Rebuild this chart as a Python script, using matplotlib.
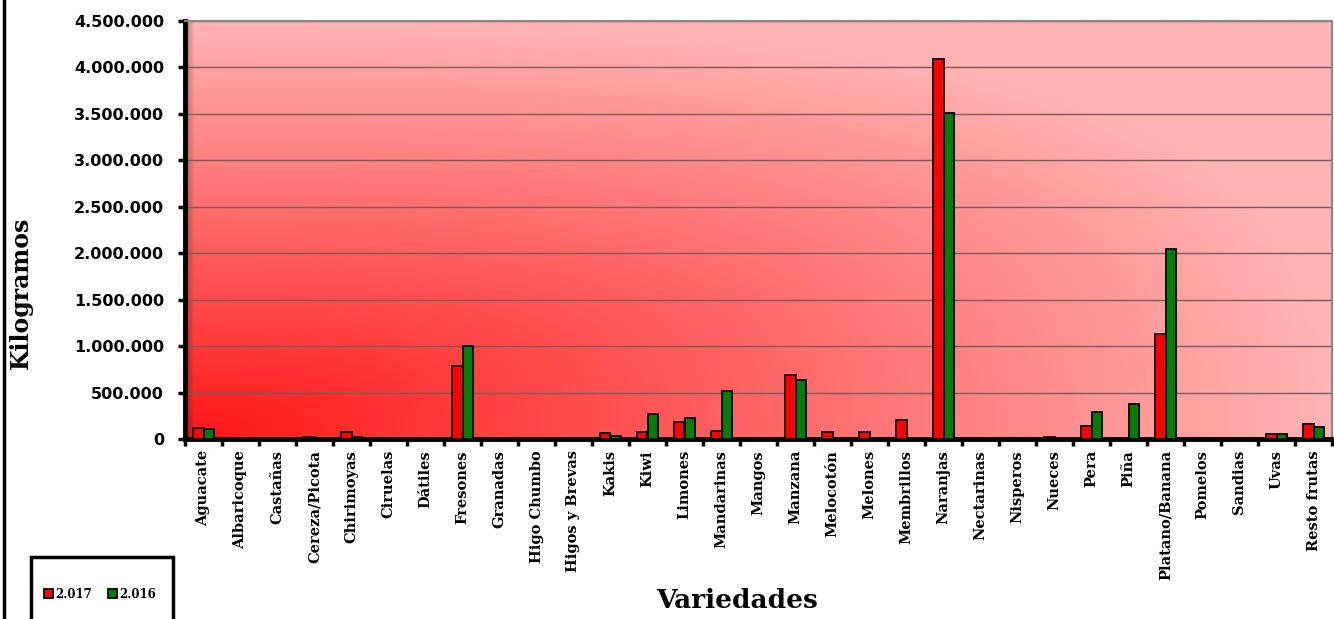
import numpy as np
import matplotlib
matplotlib.use("Agg")
import matplotlib.pyplot as plt
from matplotlib.ticker import FuncFormatter, FixedLocator
from matplotlib.patches import Rectangle
from matplotlib.lines import Line2D

# data
variedades = ['Aguacate', 'Albaricoque', 'Castañas', 'Cereza/Picota', 'Chirimoyas', 'Ciruelas',
              'Dátiles', 'Fresones', 'Granadas', 'Higo Chumbo', 'Higos y Brevas', 'Kakis', 'Kiwi',
              'Limones', 'Mandarinas', 'Mangos', 'Manzana', 'Melocotón', 'Melones', 'Membrillos',
              'Naranjas', 'Nectarinas', 'Nisperos', 'Nueces', 'Pera', 'Piña', 'Platano/Banana',
              'Pomelos', 'Sandias', 'Uvas', 'Resto frutas']
kg_2017 = [120000, 0, 0, 20000, 75000, 10000, 0, 790000, 0, 0, 0, 61000, 79000, 183000, 90000, 0,
           692000, 75000, 75000, 201000, 4095000, 0, 15000, 20000, 137000, 8000, 1127000, 0, 0,
           50000, 161000]
kg_2016 = [105000, 0, 0, 3000, 20000, 3000, 0, 1003000, 0, 0, 0, 32000, 269000, 223000, 517000, 0,
           635000, 0, 0, 0, 3510000, 0, 5000, 5000, 287000, 373000, 2050000, 0, 0, 57000, 133000]
series_labels = ['2.017', '2.016']
y_ticks = [0, 500000, 1000000, 1500000, 2000000, 2500000, 3000000, 3500000, 4000000, 4500000]

fig = plt.figure(figsize=(13.34, 6.19), dpi=100)
ax = fig.add_axes([185 / 1334, 180 / 619, 1147 / 1334, 418 / 619])

n = len(variedades)
ax.set_xlim(0, n)
ax.set_ylim(0, 4500000)

# background gradient from bottom-left corner
u = np.linspace(0, 1, 400)
v = np.linspace(0, 1, 200)
U, V = np.meshgrid(u, v)
t = (U ** 3 + V ** 3) ** (1 / 3)
t = np.clip(t, 0, 1)
c0 = np.array([255, 22, 22]) / 255
c1 = np.array([255, 180, 180]) / 255
img = c0[None, None, :] + (c1 - c0)[None, None, :] * t[:, :, None]
ax.imshow(img, extent=[0, 1, 0, 1], transform=ax.transAxes, origin='lower',
          aspect='auto', zorder=0, interpolation='bilinear')
# small shadow on the left edge
sh = np.zeros((2, 60, 4))
sh[..., 3] = np.linspace(0.3, 0, 60)[None, :]
ax.imshow(sh, extent=[0, 0.008, 0, 1], transform=ax.transAxes, origin='lower',
          aspect='auto', zorder=0.5)

x = np.arange(n) + 0.5
w = 0.285
ax.bar(x - w / 2, kg_2017, w, color='#ff0000', edgecolor='black', linewidth=1.3, zorder=3,
       label=series_labels[0])
ax.bar(x + w / 2, kg_2016, w, color='#008000', edgecolor='black', linewidth=1.3, zorder=3,
       label=series_labels[1])

ax.yaxis.set_major_locator(FixedLocator(y_ticks))
ax.yaxis.set_major_formatter(FuncFormatter(lambda val, p: f"{int(val):,}".replace(',', '.')))
ax.grid(axis='y', color='#7a5a5a', linewidth=1, zorder=1)
ax.set_axisbelow(True)

ax.set_xticks(np.arange(n + 1))
ax.set_xticklabels([])
ax.set_xticks(x, minor=True)
ax.set_xticklabels(variedades, minor=True, rotation=90, fontsize=10.5, fontweight='bold',
                   family='DejaVu Serif', va='top', ha='center')
ax.tick_params(axis='x', which='minor', length=0, pad=8)
ax.tick_params(axis='x', which='major', direction='out', length=5, width=2.5, color='black')
ax.tick_params(axis='y', direction='out', length=5, width=2.5, color='black', pad=10)
for lab in ax.get_yticklabels():
    lab.set_fontweight('bold')
    lab.set_fontsize(11.5)
    lab.set_family('DejaVu Sans')

ax.spines['left'].set_linewidth(3.5)
ax.spines['bottom'].set_linewidth(3.5)
ax.spines['top'].set_color('#888888')
ax.spines['right'].set_color('#888888')
ax.spines['top'].set_linewidth(1.5)
ax.spines['right'].set_linewidth(1.5)

fig.text(21 / 1334, 1 - 293 / 619, 'Kilogramos', rotation=90, ha='center', va='center',
         fontsize=17, fontweight='bold', family='DejaVu Serif')
fig.text(737 / 1334, 1 - 600 / 619, 'Variedades', ha='center', va='center',
         fontsize=19, fontweight='bold', family='DejaVu Serif')

# legend box
fig.patches.append(Rectangle((31 / 1334, -0.05), 142 / 1334, 0.05 + 62 / 619, transform=fig.transFigure,
                             facecolor='white', edgecolor='black', linewidth=2.5, clip_on=False))
h, l = ax.get_legend_handles_labels()
fig.legend(h, l, loc='center', bbox_to_anchor=(100 / 1334, 1 - 594 / 619), ncol=2, frameon=False,
           prop={'family': 'DejaVu Serif', 'weight': 'bold', 'size': 8.5},
           handlelength=0.7, handleheight=0.7, handletextpad=0.2, columnspacing=1.4)

# outer left border of the chart
fig.add_artist(Line2D([4 / 1334, 4 / 1334], [0, 1], transform=fig.transFigure, color='black', linewidth=2.5))

fig.savefig('out.png', dpi=100)
